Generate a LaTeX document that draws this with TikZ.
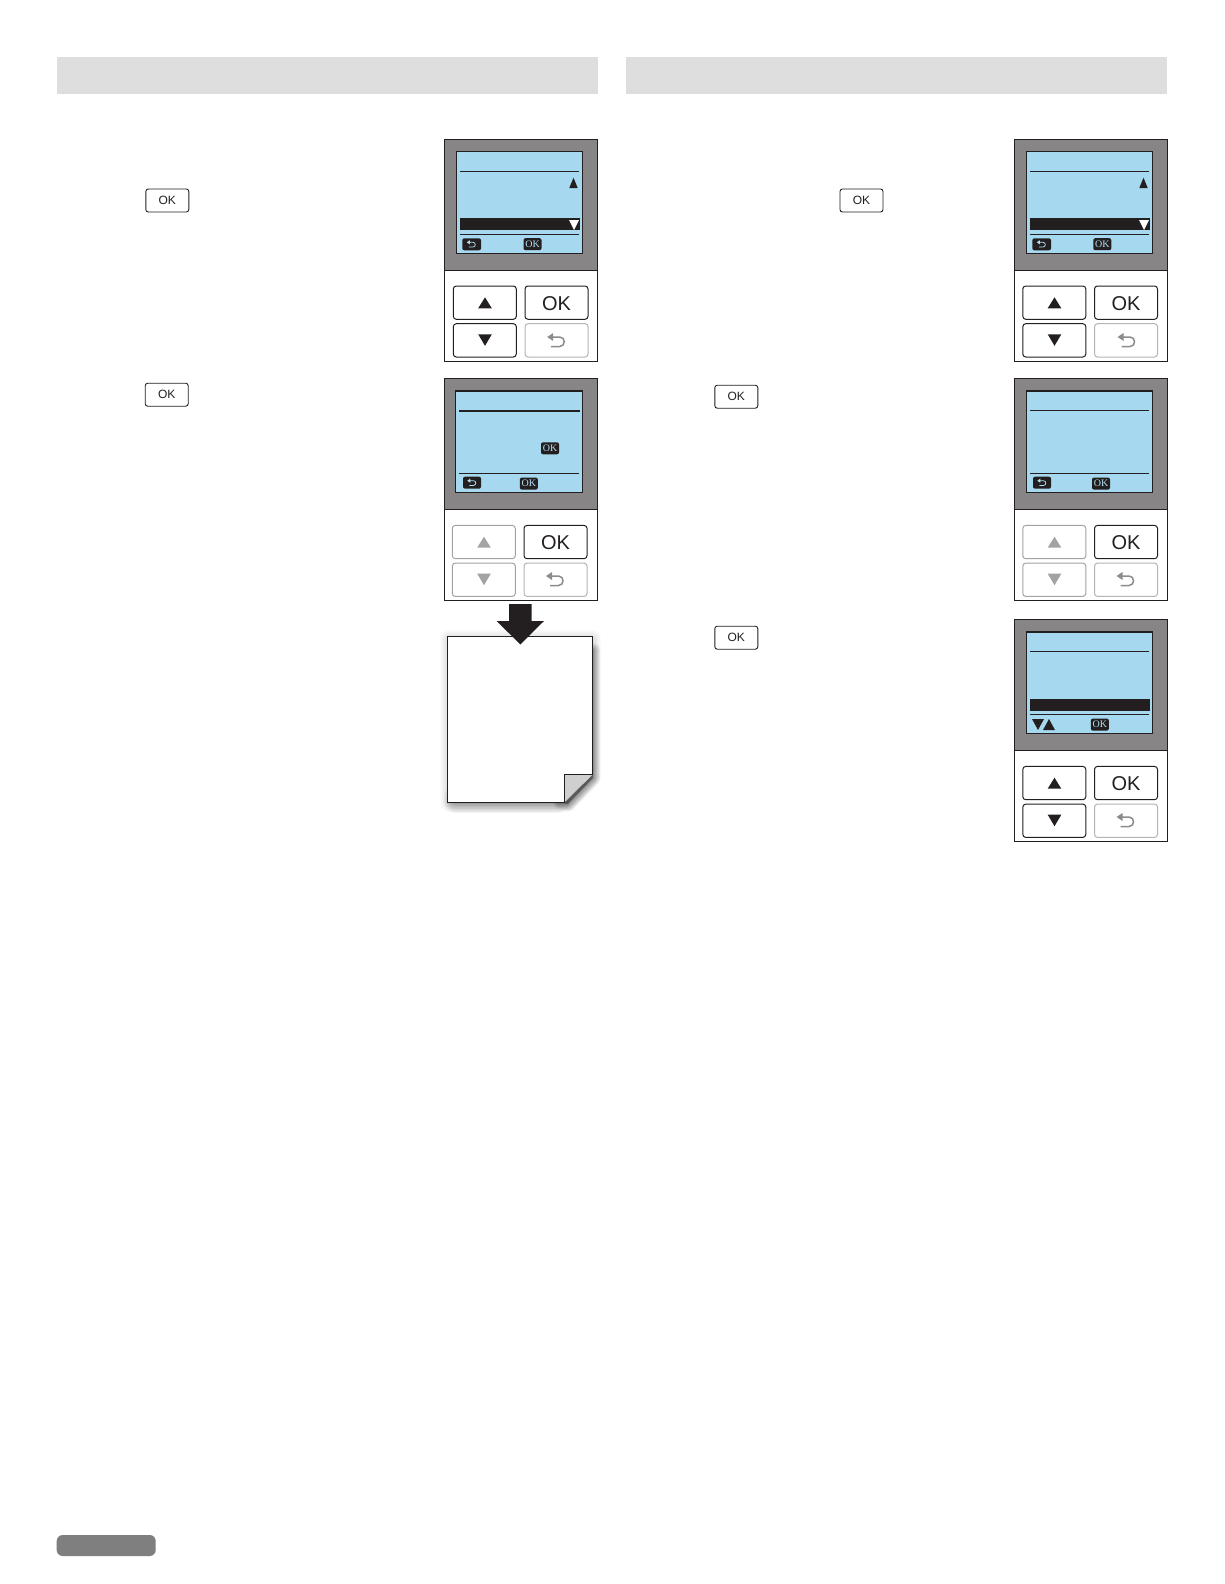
\documentclass[tikz,border=0pt]{standalone}
\usepackage{fontspec}
\setmainfont{Liberation Sans}
\newfontfamily\lcdfont{Liberation Serif}
\definecolor{hdr}{HTML}{DEDEDE}
\definecolor{bezel}{HTML}{878585}
\definecolor{lcd}{HTML}{A6D9EF}
\definecolor{ink}{HTML}{231F20}
\definecolor{dim}{HTML}{A3A3A3}
\definecolor{dimline}{HTML}{B5B5B5}
\definecolor{glyphgray}{HTML}{8C8C8C}
\definecolor{pagertab}{HTML}{7F7F7F}
\definecolor{foldc}{HTML}{CFCFCF}
\tikzset{
  header/.style={fill=hdr,draw=none},
  panelbox/.style={draw=ink,line width=1pt,fill=white},
  bezelfill/.style={fill=bezel,draw=ink,line width=1pt},
  lcdscreen/.style={fill=lcd,draw=ink,line width=1.3pt},
  lcdrule/.style={draw=ink,line width=0.9pt},
  keybtn/.style={draw=#1,fill=white,line width=1pt,rounded corners=3pt},
  oklabel/.style={font=\fontsize{20}{20}\selectfont,text=ink,inner sep=0pt},
  inlinebtn/.style={draw=ink,fill=white,line width=0.9pt,rounded corners=2.5pt,minimum width=43pt,minimum height=23pt,inner sep=0pt,font=\fontsize{12}{12}\selectfont,text=ink},
  badge/.style={fill=ink,rounded corners=2pt,minimum width=18pt,minimum height=12pt,inner sep=0pt,text=lcd!85!white,font=\lcdfont\fontsize{10}{10}\selectfont}
}
% back glyph: centre x, y, scale, colour
\newcommand\backglyph[4]{%
  \begin{scope}[shift={(#1,#2)},scale=#3]
    \draw[#4,line width=#3*1.5pt] (-5,-4) -- (3,-4) .. controls (9,-4) and (9,5.5) .. (3,5.5) -- (-5.5,5.5);
    \fill[#4] (-9.5,-4) -- (-3.5,-8) -- (-3.5,0) -- cycle;
  \end{scope}}
% prefix, x, y, screen dx, key dx, key colour, ok-badge rel x
\newcommand\lcdpanel[7]{%
  \begin{scope}[shift={(#2,#3)}]
    \draw[panelbox] (0,0) rectangle (153.4,221.7);
    \draw[bezelfill] (0,0) rectangle (153.4,130.7);
    \draw[lcdscreen] (12.4+#4,12.4) rectangle (138.4,114);
    \draw[lcdrule] (15.7+#4,32) -- (135,32);
    \draw[lcdrule] (15.7+#4,95) -- (135,95);
    \draw[keybtn=#6] (9+#5,146.7) rectangle (72+#5,180);
    \draw[keybtn=#6] (9+#5,184.4) rectangle (72+#5,217.7);
    \draw[keybtn=ink] (80.7+#5,146.7) rectangle (143.7+#5,180);
    \draw[keybtn=dimline] (80.7+#5,184.4) rectangle (143.7+#5,217.7);
    \fill[#6] (33.9+#5,169) -- (47.5+#5,169) -- (40.7+#5,158) -- cycle;
    \fill[#6] (33.9+#5,195) -- (47.5+#5,195) -- (40.7+#5,206.5) -- cycle;
    \node[oklabel] (#1ok) at (112.2+#5,164) {OK};
    \node[badge] (#1okb) at (#7,104.9) {OK};
  \end{scope}}
\begin{document}
\begin{tikzpicture}[x=1pt,y=-1pt]
\useasboundingbox (0,0) rectangle (1224,1584);
\fill[white] (0,0) rectangle (1224,1584);
% headers and page tab
\fill[header] (56.6,56.6) rectangle (598,94);
\fill[header] (626,56.6) rectangle (1167.3,94);
\fill[pagertab,rounded corners=6pt] (56.7,1535) rectangle (155.7,1556);
% inline OK keys
\node[inlinebtn] (inlineA) at (167.3,200.5) {OK};
\node[inlinebtn] (inlineB) at (166.7,394.7) {OK};
\node[inlinebtn] (inlineC) at (861.5,200.5) {OK};
\node[inlinebtn] (inlineD) at (736.3,396.7) {OK};
\node[inlinebtn] (inlineE) at (736.3,637.7) {OK};
% panel 1
\lcdpanel{pa}{444.3}{139.3}{0}{0}{ink}{88.2}
\backglyph{556.7}{341}{1}{glyphgray}
\fill[ink] (460,218.3) rectangle (580,230);
\fill[white] (569,220) -- (579,220) -- (574,230) -- cycle;
\fill[ink] (569.3,188) -- (577.7,188) -- (573.5,177.7) -- cycle;
\fill[ink,rounded corners=2pt] (462.3,238.3) rectangle (481,250.3);
\backglyph{471.5}{244.3}{0.5}{lcd!85!white}
% panel 2
\lcdpanel{pb}{444.3}{378.7}{-1}{-1}{dim}{84.5}
\backglyph{555.5}{580}{1}{glyphgray}
\draw[ink,line width=1.6pt] (459,410.7) -- (579.5,410.7);
\node[badge] (pbokm) at (550,448.3) {OK};
\fill[ink,rounded corners=2pt] (463,476.7) rectangle (481,488.7);
\backglyph{472}{482.7}{0.5}{lcd!85!white}
% panel 3
\lcdpanel{pc}{1014.3}{139.3}{0}{-0.5}{ink}{88}
\backglyph{1127}{341}{1}{glyphgray}
\fill[ink] (1030,218.3) rectangle (1150,230);
\fill[white] (1139,220) -- (1149,220) -- (1144,230) -- cycle;
\fill[ink] (1139.3,188) -- (1147.7,188) -- (1143.5,177.7) -- cycle;
\fill[ink,rounded corners=2pt] (1032.3,238.3) rectangle (1051,250.3);
\backglyph{1041.5}{244.3}{0.5}{lcd!85!white}
% panel 4
\lcdpanel{pd}{1014.3}{378.7}{0}{-0.5}{dim}{86.7}
\backglyph{1126}{580}{1}{glyphgray}
\fill[ink,rounded corners=2pt] (1033,476.7) rectangle (1051,488.7);
\backglyph{1042}{482.7}{0.5}{lcd!85!white}
% panel 5
\lcdpanel{pe}{1014.3}{619.7}{0}{-0.5}{ink}{85.5}
\backglyph{1126}{821}{1}{glyphgray}
\fill[ink] (1030,699) -- (1150,699) -- (1150,711) -- (1030,711) -- cycle;
\fill[ink] (1032,719) -- (1044,719) -- (1038,730) -- cycle;
\fill[ink] (1043,730) -- (1055,730) -- (1049,719) -- cycle;
% paper shadow: soft halo
\foreach \r in {18,16,...,2}{
  \draw[black,fill=black,draw opacity=0.016,fill opacity=0.016,line width=\r pt,line join=round]
    (449,639) -- (592,639) -- (592,778) -- (568,803) -- (449,803) -- cycle;
}
% paper shadow: heavier band under the sheet and at its right edge
\foreach \r in {24,21,...,3}{
  \draw[black,fill=black,draw opacity=0.04,fill opacity=0.04,line width=\r pt,line join=round]
    (456,797) -- (558,797) -- (558,801) -- (456,801) -- cycle;
}
\foreach \r in {14,12,...,2}{
  \draw[black,fill=black,draw opacity=0.05,fill opacity=0.05,line width=\r pt,line join=round]
    (590,650) -- (593,650) -- (593,778) -- (568,804) -- (560,802) -- (590,772) -- cycle;
}
% paper
\fill[white] (447.3,636) -- (592.8,636) -- (592.8,774) -- (564.3,802.3) -- (447.3,802.3) -- cycle;
\fill[foldc] (564.3,774) -- (592.8,774) -- (564.3,802.3) -- cycle;
\draw[ink,line width=0.9pt,line join=miter] (564.3,802.3) -- (447.3,802.3) -- (447.3,636) -- (592.8,636) -- (592.8,774) -- (564.3,774) -- cycle;
% down arrow
\fill[ink] (509,604) -- (531.7,604) -- (531.7,621) -- (544,621) -- (520.3,644.5) -- (496.7,621) -- (509,621) -- cycle;
\end{tikzpicture}
\end{document}
